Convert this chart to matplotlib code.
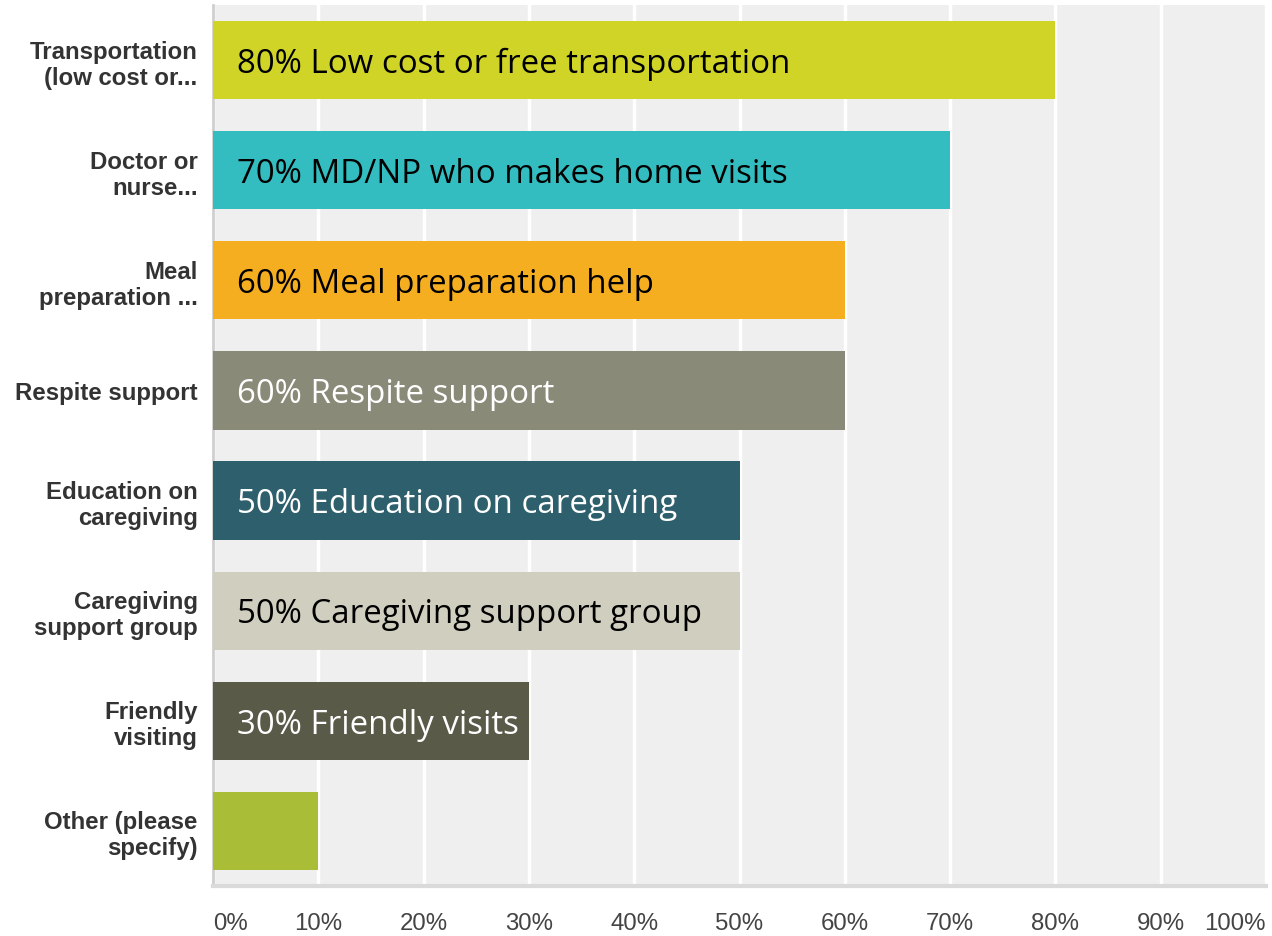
import matplotlib
matplotlib.use("Agg")
import matplotlib.pyplot as plt

categories = [
    "Transportation\n(low cost or...",
    "Doctor or\nnurse...",
    "Meal\npreparation ...",
    "Respite support",
    "Education on\ncaregiving",
    "Caregiving\nsupport group",
    "Friendly\nvisiting",
    "Other (please\nspecify)",
]
values = [80, 70, 60, 60, 50, 50, 30, 10]
bar_texts = [
    "80% Low cost or free transportation",
    "70% MD/NP who makes home visits",
    "60% Meal preparation help",
    "60% Respite support",
    "50% Education on caregiving",
    "50% Caregiving support group",
    "30% Friendly visits",
    "",
]
colors = ["#cfd427", "#33bdc0", "#f5ae1f", "#898a78", "#2e5f6c", "#cfcebf", "#5a5a49", "#a9bd37"]
text_colors = ["black", "black", "black", "white", "white", "black", "white", "black"]
xticks = [0, 10, 20, 30, 40, 50, 60, 70, 80, 90, 100]
xticklabels = ["0%", "10%", "20%", "30%", "40%", "50%", "60%", "70%", "80%", "90%", "100%"]

fig = plt.figure(figsize=(12.72, 9.37), dpi=100)
ax = fig.add_axes([213 / 1272, 1 - 887 / 937, 1053 / 1272, (887 - 6) / 937])
ax.set_facecolor("#efefef")

ypos = list(range(len(categories)))
ax.barh(ypos, values, height=0.71, color=colors, edgecolor="none", zorder=3)

for y, v, t, tc in zip(ypos, values, bar_texts, text_colors):
    if t:
        ax.text(2.3, y + 0.03, t, color=tc, fontsize=23.8, family="Open Sans",
                va="center", ha="left", zorder=4)

ax.set_xlim(0, 100)
ax.set_ylim(len(categories) - 0.5, -0.5)
ax.set_xticks(xticks)
ax.set_xticklabels(xticklabels, fontsize=17.3, color="#444444", family="Liberation Sans")
tl = ax.get_xticklabels()
tl[0].set_horizontalalignment("left")
tl[-1].set_horizontalalignment("right")
ax.set_yticks(ypos)
ax.set_yticklabels(categories, fontsize=17.3, color="#333333", family="Liberation Sans",
                   fontweight="bold", linespacing=1.17)
ax.tick_params(axis="x", length=0, pad=19)
ax.tick_params(axis="y", length=0, pad=11)

ax.grid(axis="x", color="white", linewidth=2.5, zorder=1)
ax.set_axisbelow(True)
for s in ["top", "right"]:
    ax.spines[s].set_visible(False)
ax.spines["left"].set_color("#cfcfcf")
ax.spines["left"].set_linewidth(2)
ax.spines["bottom"].set_color("#dadada")
ax.spines["bottom"].set_linewidth(3)

fig.savefig("out.png", dpi=100, facecolor="white")
